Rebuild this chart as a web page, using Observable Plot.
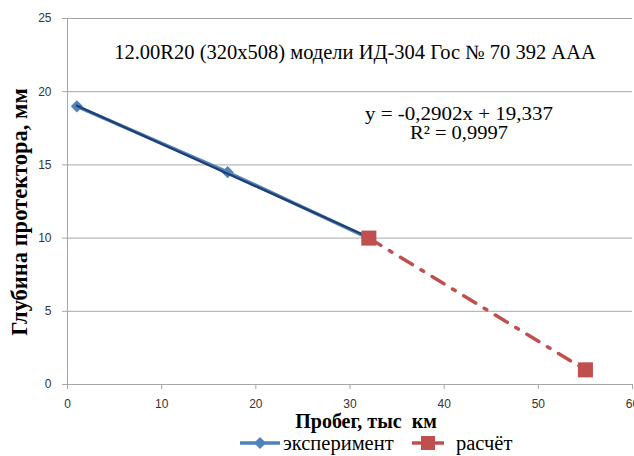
<!DOCTYPE html>
<html>
<head>
<meta charset="utf-8">
<script src="https://cdn.jsdelivr.net/npm/d3@7"></script>
<script src="https://cdn.jsdelivr.net/npm/@observablehq/plot@0.6"></script>
<style>
  html, body { margin: 0; padding: 0; background: #fff; }
  #chart svg { display: block; }
</style>
</head>
<body>
<div id="chart"></div>
<script>
// Data
const expMileage = [1, 17, 32];
const expDepth = [19, 14.5, 10];
const calcMileage = [32, 55];
const calcDepth = [10, 1];
const xTicks = [0, 10, 20, 30, 40, 50, 60];
const yTicks = [0, 5, 10, 15, 20, 25];
const chartTitle = "12.00R20 (320x508) модели ИД-304 Гос № 70 392 ААА";
const equationText = "y = -0,2902x + 19,337";
const r2Text = "R² = 0,9997";
const xLabel = "Пробег, тыс  км";
const yLabel = "Глубина протектора, мм";
const seriesNames = ["эксперимент", "расчёт"];

const expData = expMileage.map((x, i) => ({x, y: expDepth[i]}));
const calcData = calcMileage.map((x, i) => ({x, y: calcDepth[i]}));

const blue = "#4F81BD";
const navy = "#1F3F6E";
const red = "#C0504D";
const grid = "#a6a6a6";
const serif = "'Liberation Serif', 'Times New Roman', serif";
const sans = "'Liberation Sans', Arial, sans-serif";

const W = 634, H = 456;
const mL = 67, mR = 2, mT = 18, mB = 72;

const plot = Plot.plot({
  width: W,
  height: H,
  marginLeft: mL,
  marginRight: mR,
  marginTop: mT,
  marginBottom: mB,
  style: {fontFamily: sans, fontSize: "12px", color: "#333", background: "#fff", overflow: "visible"},
  x: {domain: [0, 60], ticks: xTicks, label: null},
  y: {domain: [0, 25], ticks: yTicks, label: null},
  marks: [
    Plot.gridY(yTicks, {stroke: grid, strokeOpacity: 1, strokeWidth: 1}),
    Plot.axisY({ticks: yTicks, tickSize: 5, tickPadding: 11, stroke: grid, fill: "#333", label: null}),
    Plot.axisX({ticks: xTicks, tickSize: 5, tickPadding: 10, stroke: grid, fill: "#333", label: null}),
    Plot.ruleY([0], {stroke: grid, strokeWidth: 1}),
    Plot.ruleX([0], {stroke: grid, strokeWidth: 1}),
    // calculated series
    Plot.line(calcData, {x: "x", y: "y", stroke: red, strokeWidth: 3.5, strokeDasharray: "14,10,3,10"}),
    // experiment series
    Plot.line(expData, {x: "x", y: "y", stroke: blue, strokeWidth: 3.5}),
    Plot.dot(expData, {x: "x", y: "y", symbol: "diamond2", r: 5.5, fill: blue, stroke: "none"}),
    Plot.linearRegressionY(expData, {x: "x", y: "y", stroke: navy, strokeWidth: 2.2, ci: 0}),
    Plot.dot(calcData, {x: "x", y: "y", symbol: "square", r: 8.5, fill: red, stroke: "none"})
  ]
});

document.getElementById("chart").appendChild(plot);

// Annotations and legend (layout text)
const svg = d3.select(plot);
const g = svg.append("g").attr("text-anchor", "start");

function txt(parent, x, y, s, size, opts = {}) {
  const t = parent.append("text")
    .attr("x", x).attr("y", y)
    .attr("text-anchor", opts.anchor || "start")
    .style("font-family", serif).style("font-size", size + "px")
    .style("font-weight", opts.bold ? "bold" : "normal")
    .style("fill", "#000")
    .text(s);
  if (opts.len) t.attr("textLength", opts.len).attr("lengthAdjust", "spacingAndGlyphs");
  return t;
}

txt(g, 355, 59, chartTitle, 20.5, {anchor: "middle"});
txt(g, 459, 120, equationText, 19, {anchor: "middle", len: 188});
txt(g, 459, 139, r2Text, 19, {anchor: "middle", len: 98});
txt(g, 366, 428, xLabel, 20, {anchor: "middle", bold: true});

g.append("text")
  .attr("transform", "translate(27,212) rotate(-90)")
  .attr("text-anchor", "middle")
  .style("font-family", serif).style("font-size", "22.5px").style("font-weight", "bold").style("fill", "#000")
  .text(yLabel);

// legend
const ly = 443;
const leg = g.append("g");
leg.append("line").attr("x1", 240).attr("x2", 280).attr("y1", ly).attr("y2", ly)
  .attr("stroke", blue).attr("stroke-width", 3.5);
leg.append("path").attr("d", d3.symbol(d3.symbolDiamond2, Math.PI * 30)())
  .attr("transform", `translate(260,${ly})`).attr("fill", blue);
txt(leg, 283, ly + 7, seriesNames[0], 20.5);
leg.append("line").attr("x1", 412).attr("x2", 444).attr("y1", ly).attr("y2", ly)
  .attr("stroke", red).attr("stroke-width", 3.5);
leg.append("rect").attr("x", 421).attr("y", ly - 7).attr("width", 14).attr("height", 14).attr("fill", red);
txt(leg, 456, ly + 7, seriesNames[1], 20.5);
</script>
</body>
</html>
